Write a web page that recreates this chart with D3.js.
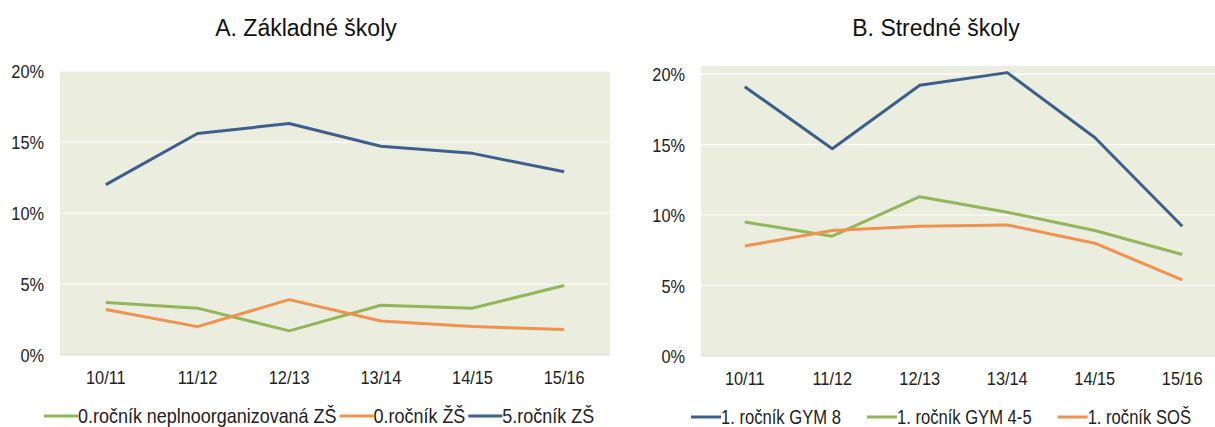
<!DOCTYPE html>
<html><head><meta charset="utf-8">
<script src="https://cdn.jsdelivr.net/npm/d3@7"></script>
<style>
html,body{margin:0;padding:0;background:#fff;}
svg{display:block;font-family:"Liberation Sans",Arial,sans-serif;}
</style></head>
<body>
<svg id="c" width="1215" height="427"></svg>
<script>
// ---- data ----
const categories = ["10/11","11/12","12/13","13/14","14/15","15/16"];
const yTicks = [0,5,10,15,20];

const titleA = "A. Základné školy";
const seriesNamesA = ["0.ročník neplnoorganizovaná ZŠ","0.ročník ŽŠ","5.ročník ZŠ"];
const neplnoA = [3.7,3.3,1.7,3.5,3.3,4.9];
const nultyA  = [3.2,2.0,3.9,2.4,2.0,1.8];
const piatyA  = [12.0,15.6,16.3,14.7,14.2,12.9];

const titleB = "B. Stredné školy";
const seriesNamesB = ["1. ročník GYM 8","1. ročník GYM 4-5","1. ročník SOŠ"];
const gym8B  = [19.1,14.7,19.2,20.1,15.5,9.2];
const gym45B = [9.5,8.5,11.3,10.2,8.9,7.2];
const sosB   = [7.8,8.9,9.2,9.3,8.0,5.4];

// ---- style ----
const BLUE="#3d5f8e", GREEN="#92b65a", ORANGE="#f0924d", BG="#ebeddf";

const svg = d3.select("#c");

function condense(sel, f){
  let last = 0;
  sel.each(function(){
    const w = this.getComputedTextLength();
    last = w*f;
    this.setAttribute("textLength", last.toFixed(2));
    this.setAttribute("lengthAdjust","spacingAndGlyphs");
  });
  return last;
}

function panel(opt){
  const g = svg.append("g");
  const x = d3.scaleBand().domain(categories).range([opt.x0, opt.x1]);
  const y = d3.scaleLinear().domain([0, opt.ymax]).range([opt.yb, opt.yt]);

  g.append("rect").attr("x",opt.x0).attr("y",opt.yt)
    .attr("width",opt.x1-opt.x0).attr("height",opt.yb-opt.yt).attr("fill",BG);

  // gridlines
  g.append("g").selectAll("line").data(yTicks.filter(d=>d>0)).join("line")
    .attr("x1",opt.x0).attr("x2",opt.x1)
    .attr("y1",d=>y(d)).attr("y2",d=>y(d))
    .attr("stroke","#ffffff").attr("stroke-width",1.2);
  g.append("line").attr("x1",opt.x0).attr("x2",opt.x1)
    .attr("y1",y(0)).attr("y2",y(0)).attr("stroke","#dcdcd6").attr("stroke-width",1);

  // y axis
  const ya = g.append("g").attr("transform",`translate(${opt.x0},0)`)
    .call(d3.axisLeft(y).tickValues(yTicks).tickFormat(d=>d+"%").tickSize(0).tickPadding(16));
  ya.select(".domain").remove();
  ya.selectAll("text").attr("font-size",19).attr("fill","#222")
    .attr("font-family","Liberation Sans, Arial, sans-serif").attr("dy","0.35em");
  condense(ya.selectAll("text"),0.86);

  // x axis
  const xa = g.append("g").attr("transform",`translate(0,${opt.yb})`)
    .call(d3.axisBottom(x).tickSize(0).tickPadding(22));
  xa.select(".domain").remove();
  xa.selectAll("text").attr("font-size",19).attr("fill","#222")
    .attr("font-family","Liberation Sans, Arial, sans-serif").attr("dy","0.35em");
  condense(xa.selectAll("text"),0.86);

  // lines
  const line = d3.line().x((d,i)=>x(categories[i])+x.bandwidth()/2).y(d=>y(d));
  opt.series.forEach(s=>{
    g.append("path").datum(s.values).attr("d",line)
      .attr("fill","none").attr("stroke",s.color).attr("stroke-width",3)
      .attr("stroke-linejoin","round").attr("stroke-linecap","butt");
  });

  // title
  g.append("text").attr("x",opt.tx).attr("y",opt.ty).attr("text-anchor","middle")
    .attr("font-size",23).attr("fill","#111").text(opt.title);

  // legend
  let lx = opt.lx;
  opt.legend.forEach(s=>{
    g.append("line").attr("x1",lx).attr("x2",lx+opt.llen).attr("y1",opt.ly).attr("y2",opt.ly)
      .attr("stroke",s.color).attr("stroke-width",3);
    lx += opt.llen;
    const t = g.append("text").attr("x",lx).attr("y",opt.ly).attr("dy","0.35em")
      .attr("font-size",opt.lfs).attr("fill","#222").text(s.name);
    const w = condense(t,opt.lf);
    lx += w + opt.lgap;
  });
}

panel({
  x0:60, x1:610, yt:71, yb:355, ymax:20,
  title:titleA, tx:306, ty:36,
  series:[{values:neplnoA,color:GREEN},{values:nultyA,color:ORANGE},{values:piatyA,color:BLUE}],
  legend:[{name:seriesNamesA[0],color:GREEN},{name:seriesNamesA[1],color:ORANGE},{name:seriesNamesA[2],color:BLUE}],
  lx:44, ly:416, lgap:3, llen:34, lfs:21, lf:0.855
});
panel({
  x0:701, x1:1226, yt:66, yb:356, ymax:20.57,
  title:titleB, tx:936, ty:36,
  series:[{values:gym45B,color:GREEN},{values:sosB,color:ORANGE},{values:gym8B,color:BLUE}],
  legend:[{name:seriesNamesB[0],color:BLUE},{name:seriesNamesB[1],color:GREEN},{name:seriesNamesB[2],color:ORANGE}],
  lx:691, ly:417, lgap:26, llen:30, lfs:20, lf:0.83
});
</script>
</body></html>
